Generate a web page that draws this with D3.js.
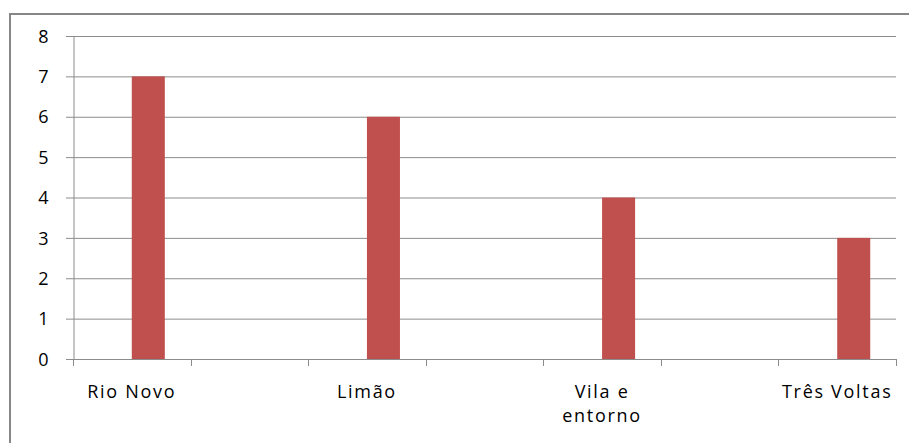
<!DOCTYPE html>
<html>
<head>
<meta charset="utf-8">
<script src="https://cdn.jsdelivr.net/npm/d3@7"></script>
<style>
  body { margin: 0; background: #fff; }
  text { font-family: "Open Sans", "Noto Sans", sans-serif; fill: #000; }
</style>
</head>
<body>
<div class="chart"></div>
<script>
'use strict';

// 7 category slots, only every other one is labelled in the source chart
var categories = ['Rio Novo', '', 'Limão', '', 'Vila e entorno', '', 'Três Voltas'];
var seriesNames = ['s1', 's2'];
var series1 = [0, 0, 0, 0, 0, 0, 0];
var series2 = [7, 0, 6, 0, 4, 0, 3];
var yTicks = [0, 1, 2, 3, 4, 5, 6, 7, 8];

(function () {
  var width = 909, height = 443;
  var left = 73, right = 896, top = 36, bottom = 359;

  var svg = d3.select('.chart')
    .append('svg')
      .attr('width', width)
      .attr('height', height);

  // outer chart border
  svg.append('rect')
      .attr('x', 10).attr('y', 14)
      .attr('width', 905).attr('height', 440)
      .style('fill', 'none')
      .style('stroke', '#868686')
      .style('stroke-width', 2);

  var x0 = d3.scaleBand()
      .domain(d3.range(categories.length))
      .range([left, right])
      .paddingInner(0).paddingOuter(0);
  var x1 = d3.scaleBand()
      .domain(seriesNames)
      .range([0, x0.bandwidth()])
      .paddingInner(0).paddingOuter(0.78);
  var y = d3.scaleLinear().domain([0, 8]).range([bottom, top]);

  // gridlines
  svg.append('g')
    .selectAll('line')
      .data(yTicks)
    .enter().append('line')
      .attr('x1', left - 7).attr('x2', right)
      .attr('y1', function(d) { return y(d) + 0.5; })
      .attr('y2', function(d) { return y(d) + 0.5; })
      .style('stroke', '#8c8c8c')
      .style('stroke-width', 1);

  // y axis
  var yAxis = svg.append('g')
      .attr('transform', 'translate(' + (left + 0.5) + ',0)')
      .call(d3.axisLeft(y).tickValues(yTicks).tickSize(0).tickPadding(25));
  yAxis.select('.domain').style('stroke', '#8c8c8c');
  yAxis.selectAll('text')
      .style('font-size', '18px')
      .attr('dy', '0.34em');

  // bars
  var data = [series1, series2];
  var bars = svg.append('g');
  seriesNames.forEach(function(s, si) {
    bars.selectAll('.bar-' + s)
        .data(data[si])
      .enter().append('rect')
        .attr('class', 'bar-' + s)
        .attr('x', function(d, i) { return x0(i) + x1(s); })
        .attr('width', x1.bandwidth())
        .attr('y', function(d) { return y(d); })
        .attr('height', function(d) { return y(0) - y(d); })
        .style('fill', '#c0504d');
  });

  // x axis line + ticks at category boundaries
  var bounds = d3.range(categories.length + 1).map(function(i) {
    return i < categories.length ? x0(i) : x0(i - 1) + x0.step();
  });
  var xg = svg.append('g');
  xg.append('line')
      .attr('x1', left).attr('x2', right)
      .attr('y1', bottom + 0.5).attr('y2', bottom + 0.5)
      .style('stroke', '#8c8c8c');
  xg.selectAll('.tick')
      .data(bounds)
    .enter().append('line')
      .attr('x1', function(d) { return Math.round(d) + 0.5; })
      .attr('x2', function(d) { return Math.round(d) + 0.5; })
      .attr('y1', bottom).attr('y2', bottom + 7)
      .style('stroke', '#8c8c8c');

  var labels = xg.selectAll('.lbl')
      .data(categories)
    .enter().append('text')
      .attr('class', 'lbl')
      .attr('x', function(d, i) { return x0(i) + x0.bandwidth() / 2; })
      .attr('y', 398)
      .attr('text-anchor', 'middle')
      .style('font-size', '18px')
      .style('letter-spacing', '1.7px');

  labels.each(function(d, i) {
    var t = d3.select(this);
    var words = d.split(' '), line = [];
    var cx = x0(i) + x0.bandwidth() / 2;
    var tspan = t.append('tspan').attr('x', cx);
    words.forEach(function(w) {
      line.push(w);
      tspan.text(line.join(' '));
      if (tspan.node().getComputedTextLength() > x0.bandwidth() && line.length > 1) {
        line.pop();
        tspan.text(line.join(' '));
        line = [w];
        tspan = t.append('tspan').attr('x', cx).attr('dy', 24).text(w);
      }
    });
  });
})();
</script>
</body>
</html>
